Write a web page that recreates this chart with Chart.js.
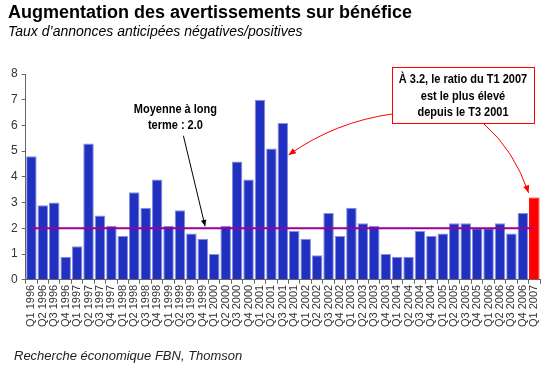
<!DOCTYPE html>
<html>
<head>
<meta charset="utf-8">
<script src="https://cdn.jsdelivr.net/npm/chart.js@4"></script>
<style>
  html, body { margin: 0; padding: 0; background: #fff; }
  #wrap { width: 550px; height: 370px; position: relative; }
</style>
</head>
<body>
<div id="wrap"><canvas id="barChart" width="550" height="370"></canvas></div>
<script>
const quarters = [
  "Q1 1996","Q2 1996","Q3 1996","Q4 1996",
  "Q1 1997","Q2 1997","Q3 1997","Q4 1997",
  "Q1 1998","Q2 1998","Q3 1998","Q4 1998",
  "Q1 1999","Q2 1999","Q3 1999","Q4 1999",
  "Q1 2000","Q2 2000","Q3 2000","Q4 2000",
  "Q1 2001","Q2 2001","Q3 2001","Q4 2001",
  "Q1 2002","Q2 2002","Q3 2002","Q4 2002",
  "Q1 2003","Q2 2003","Q3 2003","Q4 2003",
  "Q1 2004","Q2 2004","Q3 2004","Q4 2004",
  "Q1 2005","Q2 2005","Q3 2005","Q4 2005",
  "Q1 2006","Q2 2006","Q3 2006","Q4 2006",
  "Q1 2007"
];
const ratio = [
  4.8, 2.9, 3.0, 0.9,
  1.3, 5.3, 2.5, 2.1,
  1.7, 3.4, 2.8, 3.9,
  2.1, 2.7, 1.8, 1.6,
  1.0, 2.1, 4.6, 3.9,
  7.0, 5.1, 6.1, 1.9,
  1.6, 0.95, 2.6, 1.7,
  2.8, 2.2, 2.1, 1.0,
  0.9, 0.9, 1.9, 1.7,
  1.8, 2.2, 2.2, 2.0,
  2.0, 2.2, 1.8, 2.6,
  3.2
];
const longTermAvg = 2.0;
const yTicks = [0, 1, 2, 3, 4, 5, 6, 7, 8];

const titleText = "Augmentation des avertissements sur bénéfice";
const subtitleText = "Taux d\u2019annonces anticipées négatives/positives";
const sourceText = "Recherche économique FBN, Thomson";
const avgNote = ["Moyenne à long", "terme : 2.0"];
const boxNote = ["À 3.2, le ratio du T1 2007", "est le plus élevé", "depuis le T3 2001"];

const barColors = ratio.map((v, i) => i === ratio.length - 1 ? "#ff0000" : "#2030c0");
const barBorders = ratio.map((v, i) => i === ratio.length - 1 ? "#ff0000" : "#8890d8");

function arrowHead(ctx, x, y, angle, size) {
  ctx.beginPath();
  ctx.moveTo(x, y);
  ctx.lineTo(x - size * Math.cos(angle - 0.4), y - size * Math.sin(angle - 0.4));
  ctx.lineTo(x - size * Math.cos(angle + 0.4), y - size * Math.sin(angle + 0.4));
  ctx.closePath();
  ctx.fill();
}

// narrow bold text, like Arial Narrow
function narrowText(ctx, t, x, y) {
  ctx.save();
  ctx.translate(x, y);
  ctx.scale(0.88, 1);
  ctx.fillText(t, 0, 0);
  ctx.restore();
}

// texts and arrows drawn on top of the chart
const notes = {
  id: "notes",
  afterDraw(chart) {
    const ctx = chart.ctx;
    const xs = chart.scales.x, ys = chart.scales.y;
    ctx.save();

    ctx.fillStyle = "#000";
    ctx.textAlign = "left";
    ctx.textBaseline = "middle";
    ctx.font = "bold 18px 'Liberation Sans', Arial, sans-serif";
    ctx.fillText(titleText, 8, 13);
    ctx.font = "italic 14px 'Liberation Sans', Arial, sans-serif";
    ctx.fillText(subtitleText, 8, 32);
    ctx.font = "italic 13px 'Liberation Sans', Arial, sans-serif";
    ctx.fillStyle = "#222";
    ctx.fillText(sourceText, 14, 356);

    // long-term average note
    ctx.fillStyle = "#000";
    ctx.textAlign = "center";
    ctx.font = "bold 12.5px 'Liberation Sans', Arial, sans-serif";
    const ax = xs.getPixelForValue(12.6);
    narrowText(ctx, avgNote[0], ax, ys.getPixelForValue(6.6));
    narrowText(ctx, avgNote[1], ax, ys.getPixelForValue(5.98));
    const a0x = xs.getPixelForValue(13.3), a0y = ys.getPixelForValue(5.6);
    const a1x = xs.getPixelForValue(15.2), a1y = ys.getPixelForValue(longTermAvg) - 2;
    ctx.strokeStyle = "#000";
    ctx.lineWidth = 1;
    ctx.beginPath();
    ctx.moveTo(a0x, a0y);
    ctx.lineTo(a1x, a1y);
    ctx.stroke();
    arrowHead(ctx, a1x, a1y, Math.atan2(a1y - a0y, a1x - a0x), 7);

    // red box note
    const bx0 = 392, by0 = 67, bx1 = 534, by1 = 123;
    ctx.fillStyle = "#fff";
    ctx.fillRect(bx0, by0, bx1 - bx0, by1 - by0);
    ctx.strokeStyle = "#ff0000";
    ctx.lineWidth = 1;
    ctx.strokeRect(bx0 + 0.5, by0 + 0.5, bx1 - bx0, by1 - by0);
    ctx.fillStyle = "#000";
    const bcx = (bx0 + bx1) / 2;
    boxNote.forEach((t, i) => narrowText(ctx, t, bcx, 80 + i * 16.5));

    // red curved arrows
    ctx.strokeStyle = "#ff0000";
    ctx.fillStyle = "#ff0000";
    const t1x = xs.getPixelForValue(22.5), t1y = ys.getPixelForValue(4.85);
    ctx.beginPath();
    ctx.moveTo(bx0, 114);
    ctx.quadraticCurveTo(335, 122, t1x, t1y);
    ctx.stroke();
    arrowHead(ctx, t1x, t1y, Math.atan2(t1y - 122, t1x - 335), 8);

    const n = ratio.length - 1;
    const t2x = xs.getPixelForValue(n - 0.5), t2y = ys.getPixelForValue(3.38);
    ctx.beginPath();
    ctx.moveTo(484, by1 + 1);
    ctx.quadraticCurveTo(514, 150, t2x, t2y);
    ctx.stroke();
    arrowHead(ctx, t2x, t2y, Math.atan2(t2y - 150, t2x - 514), 8);

    ctx.restore();
  }
};

const ctx = document.getElementById("barChart").getContext("2d");
new Chart(ctx, {
  type: "bar",
  data: {
    labels: quarters,
    datasets: [
      {
        type: "line",
        data: quarters.map(() => longTermAvg),
        borderColor: "#990099",
        borderWidth: 2,
        pointRadius: 0,
        order: 0
      },
      {
        data: ratio,
        backgroundColor: barColors,
        borderColor: barBorders,
        borderWidth: 1,
        barPercentage: 0.92,
        categoryPercentage: 1.0,
        order: 1
      }
    ]
  },
  plugins: [notes],
  options: {
    responsive: false,
    animation: false,
    devicePixelRatio: 1,
    layout: { padding: { top: 74, left: 7, right: 10, bottom: 42 } },
    plugins: { legend: { display: false }, tooltip: { enabled: false } },
    scales: {
      x: {
        offset: true,
        grid: { display: true, drawOnChartArea: false, tickLength: 4, color: "#666" },
        border: { color: "#666" },
        ticks: {
          autoSkip: false,
          minRotation: 90,
          maxRotation: 90,
          padding: 1,
          color: "#333",
          font: { family: "'Liberation Sans', Arial, sans-serif", size: 11 }
        }
      },
      y: {
        min: 0,
        max: 8,
        afterBuildTicks: (s) => { s.ticks = yTicks.map(v => ({ value: v })); },
        grid: { display: true, drawOnChartArea: false, tickLength: 4, color: "#666" },
        border: { color: "#666" },
        ticks: {
          padding: 4,
          color: "#333",
          font: { family: "'Liberation Sans', Arial, sans-serif", size: 12 }
        }
      }
    }
  }
});
</script>
</body>
</html>
